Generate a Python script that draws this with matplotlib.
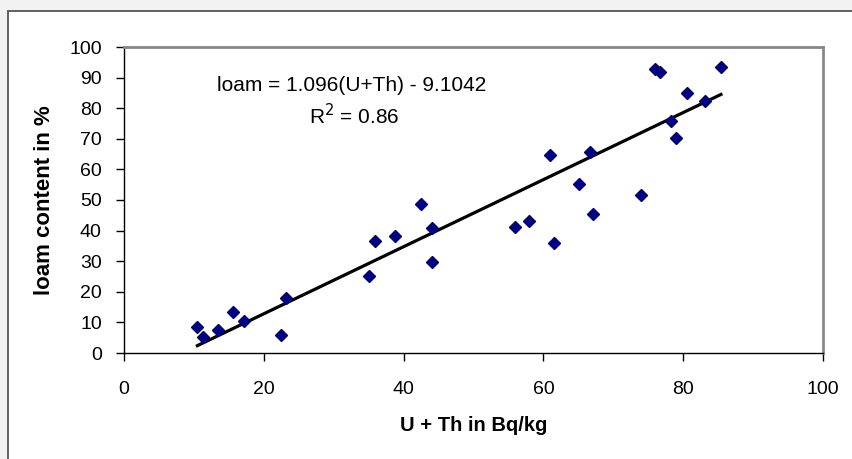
import numpy as np
import matplotlib.pyplot as plt
from matplotlib.patches import Rectangle

plt.rcParams['font.family'] = ['Liberation Sans', 'DejaVu Sans']

# U + Th (Bq/kg) and loam content (%)
u_th = [10.5, 11.3, 13.5, 15.6, 17.1, 22.5, 23.2, 35.1, 35.9, 38.7,
        42.5, 44.0, 44.0, 55.9, 57.9, 61.0, 61.5, 65.1, 66.7, 67.1,
        74.0, 76.0, 76.7, 78.3, 78.9, 80.6, 83.1, 85.4]
loam = [8.6, 5.3, 7.5, 13.4, 10.6, 5.8, 18.0, 25.2, 36.6, 38.2,
        48.7, 40.8, 29.6, 41.1, 43.0, 64.6, 36.0, 55.2, 65.8, 45.4,
        51.5, 92.8, 91.9, 75.9, 70.3, 84.9, 82.5, 93.4]

slope = 1.096
intercept = -9.1042
x_ticks = [0, 20, 40, 60, 80, 100]
y_ticks = list(range(0, 101, 10))

fig = plt.figure(figsize=(8.52, 4.59), dpi=100, facecolor='#f2f2f2')
frame = Rectangle((8 / 852, -0.02), 1.05, 1 - 11 / 459 + 0.02,
                  transform=fig.transFigure, facecolor='white',
                  edgecolor='#555555', linewidth=1.3, zorder=-10)
fig.add_artist(frame)

ax = fig.add_axes([124 / 852, 1 - 353 / 459, (823 - 124) / 852, (353 - 47) / 459])
ax.set_zorder(1)

ax.plot(u_th, loam, linestyle='none', marker='D', markersize=6,
        color='#000080', zorder=3)

xs = np.array([min(u_th), max(u_th)])
ax.plot(xs, slope * xs + intercept, color='black', linewidth=2.3, zorder=2)

ax.set_xlim(0, 100)
ax.set_ylim(0, 100)
ax.set_xticks(x_ticks)
ax.set_yticks(y_ticks)
ax.tick_params(direction='out', length=6, width=1, labelsize=14)
ax.tick_params(axis='y', pad=10)
ax.tick_params(axis='x', pad=14)

for side in ['top', 'right']:
    ax.spines[side].set_color('#888888')
    ax.spines[side].set_linewidth(2)
for side in ['left', 'bottom']:
    ax.spines[side].set_color('black')
    ax.spines[side].set_linewidth(1)

ax.set_xlabel('U + Th in Bq/kg', fontsize=14.5, fontweight='bold', labelpad=13)
ax.set_ylabel('loam content in %', fontsize=16, fontweight='bold', labelpad=10)

ax.text(0.325, 0.873, 'loam = 1.096(U+Th) - 9.1042', transform=ax.transAxes,
        ha='center', va='center', fontsize=15)
ax.text(0.330, 0.775, 'R$^2$ = 0.86', transform=ax.transAxes,
        ha='center', va='center', fontsize=15)

fig.savefig('out.png', dpi=100, facecolor=fig.get_facecolor())
